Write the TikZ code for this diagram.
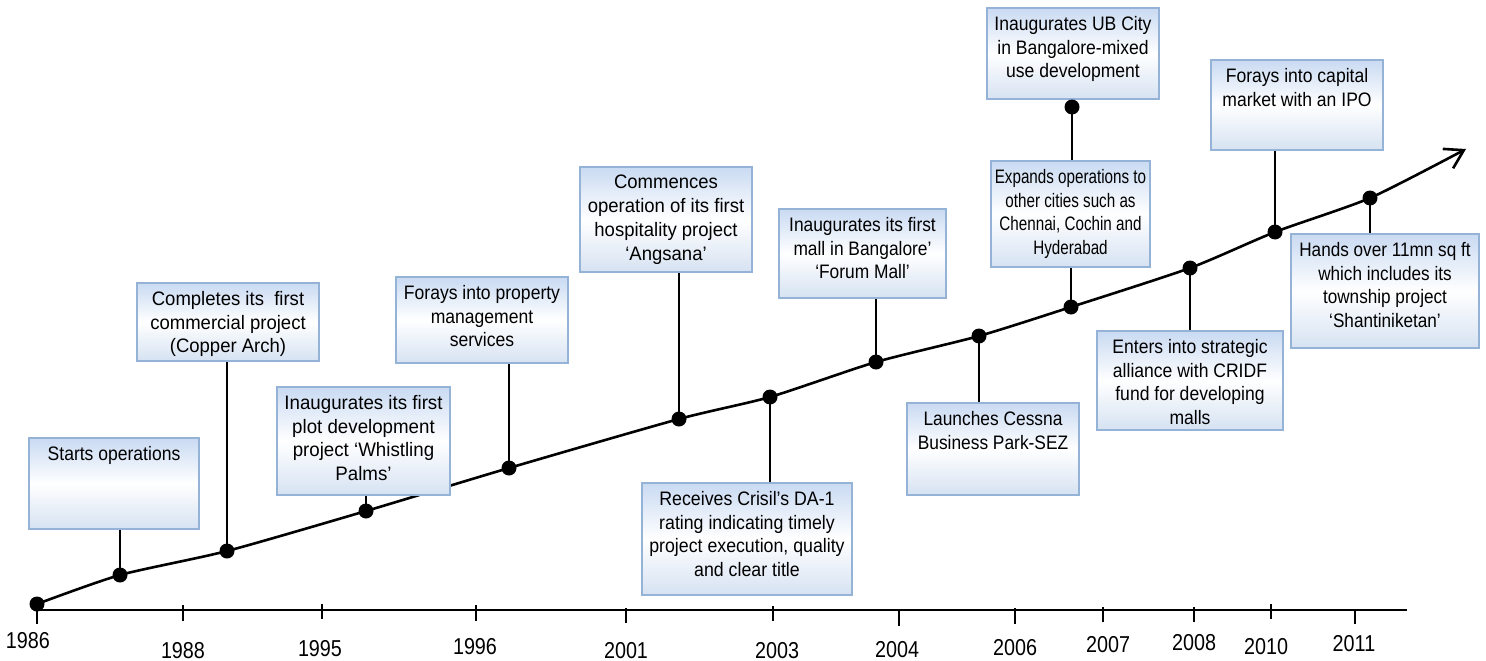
\documentclass[tikz,border=0pt]{standalone}
\usepackage{fontspec}
\usetikzlibrary{arrows.meta}
\newfontfamily\boxfont{Liberation Sans}
\newfontfamily\yearfont[FakeStretch=0.86]{Liberation Sans}
\definecolor{boxborder}{HTML}{95B3D7}
\definecolor{boxtop}{HTML}{C9DAF2}
\definecolor{boxbot}{HTML}{D6E2F2}
\tikzset{
 tlbox/.style={draw=boxborder, line width=2pt, top color=boxtop, bottom color=boxbot, middle color=white, anchor=north west, inner sep=0pt},
 tltext/.style={anchor=north, align=center, inner sep=0pt, font=\boxfont\fontsize{19.5}{23.8}\selectfont},
 yr/.style={font=\yearfont\fontsize{23}{27}\selectfont, inner sep=0pt},
 dotm/.style={circle, fill=black, inner sep=0pt, minimum size=15pt},
 conn/.style={line width=2.4pt},
 tline/.style={line width=2.6pt},
 axisline/.style={line width=2pt},
 tickline/.style={line width=2pt}
}
\newcommand\tlevent[7]{%
  \node[tlbox, minimum width={(#4-#2)*1pt}, minimum height={(#5-#3)*1pt}] (#1) at (#2,#3) {};
  \node[tltext, xscale=#7, transform shape] (#1t) at ([yshift=-9pt]#1.north) {#6};
}
\begin{document}
\begin{tikzpicture}[x=1pt,y=-1pt]
\useasboundingbox (0,0) rectangle (1486,661);
% axis
\coordinate (ax0) at (37,610);
\coordinate (ax1) at (1407,610);
\draw[axisline] (ax0) -- (ax1);
\foreach \x/\a/\b in {37/611/624,183/605/621,322/604/619,476/605/621,626/608/623,773/606/621,899/611/626,1015/608/624,1103/607/622,1194/607/622,1271/604/619,1355/609/624}
  \draw[tickline] (\x,\a) -- (\x,\b);
\foreach \n/\x/\y in {1986/28/641,1988/183/651,1995/320/649,1996/475/647,2001/626/651,2003/777/651,2004/897/650,2006/1015/648,2007/1108/645,2008/1194/643,2010/1266/647,2011/1354/644}
  \node[yr] (y\n) at (\x,\y) {\n};
% timeline points
\coordinate (d0) at (37,604);
\coordinate (d1) at (120,575);
\coordinate (d2) at (227,551);
\coordinate (d3) at (366,511);
\coordinate (d4) at (509,468);
\coordinate (d5) at (679,419);
\coordinate (d6) at (770,397);
\coordinate (d7) at (876,362);
\coordinate (d8) at (979,336);
\coordinate (d9) at (1071,307);
\coordinate (d11) at (1190,268);
\coordinate (d12) at (1275,232);
\coordinate (d13) at (1370,198);
\coordinate (tip) at (1466,149);
\draw[tline, -{Straight Barb[length=18pt,width=22pt]}] plot[smooth, tension=0.4] coordinates {(d0) (d1) (d2) (d3) (d4) (d5) (d6) (d7) (d8) (d9) (d11) (d12) (d13) (tip)};
% boxes
\tlevent{b1}{28}{437}{198}{528}{Starts operations}{0.9}
\tlevent{b2}{136}{282}{318}{360}{Completes its~ first\\commercial project\\(Copper Arch)}{0.95}
\tlevent{b3}{276}{386}{449}{494}{Inaugurates its first\\plot development\\project ‘Whistling\\Palms’}{0.96}
\tlevent{b4}{395}{276}{567}{362}{Forays into property\\management\\services}{0.9}
\tlevent{b5}{579}{166}{751}{271}{Commences\\operation of its first\\hospitality project\\‘Angsana’}{0.95}
\tlevent{b6}{641}{482}{851}{594}{Receives Crisil’s DA-1\\rating indicating timely\\project execution, quality\\and clear title}{0.91}
\tlevent{b7}{778}{208}{945}{297}{Inaugurates its first\\mall in Bangalore’\\‘Forum Mall’}{0.89}
\tlevent{b8}{906}{402}{1078}{494}{Launches Cessna\\Business Park-SEZ}{0.89}
\tlevent{b9}{990}{160}{1149}{266}{Expands operations to\\other cities such as\\Chennai, Cochin and\\Hyderabad}{0.78}
\tlevent{b10}{986}{7}{1158}{98}{Inaugurates UB City\\in Bangalore-mixed\\use development}{0.9}
\tlevent{b11}{1096}{330}{1282}{429}{Enters into strategic\\alliance with CRIDF\\fund for developing\\malls}{0.9}
\tlevent{b12}{1210}{59}{1382}{149}{Forays into capital\\market with an IPO}{0.9}
\tlevent{b13}{1290}{233}{1478}{347}{Hands over 11mn sq ft\\which includes its\\township project\\‘Shantiniketan’}{0.88}
% connectors
\coordinate (d10) at (1072,107);
\draw[conn] (d1) -- (d1 |- b1.south);
\draw[conn] (d2) -- (d2 |- b2.south);
\draw[conn] (d3) -- (d3 |- b3.south);
\draw[conn] (d4) -- (d4 |- b4.south);
\draw[conn] (d5) -- (d5 |- b5.south);
\draw[conn] (d6) -- (d6 |- b6.north);
\draw[conn] (d7) -- (d7 |- b7.south);
\draw[conn] (d8) -- (d8 |- b8.north);
\draw[conn] (d9) -- (d9 |- b9.south);
\draw[conn] (d10) -- (d10 |- b9.north);
\draw[conn] (d11) -- (d11 |- b11.north);
\draw[conn] (d12) -- (d12 |- b12.south);
\draw[conn] (d13) -- (d13 |- b13.north);
% dots
\foreach \d in {d0,d1,d2,d3,d4,d5,d6,d7,d8,d9,d10,d11,d12,d13}
  \node[dotm] (\d m) at (\d) {};
\end{tikzpicture}
\end{document}
